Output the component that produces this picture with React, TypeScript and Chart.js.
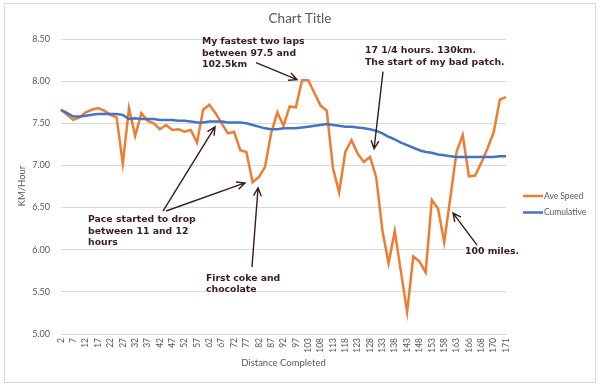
import { useEffect, useRef } from "react";
import { Chart, registerables } from "chart.js";

Chart.register(...registerables);

const distanceLabels = [
  "2", "4.5", "7", "9.5", "12", "14.5", "17", "19.5", "22", "24.5",
  "27", "29.5", "32", "34.5", "37", "39.5", "42", "44.5", "47", "49.5",
  "52", "54.5", "57", "59.5", "62", "64.5", "67", "69.5", "72", "74.5",
  "77", "79.5", "82", "84.5", "87", "89.5", "92", "94.5", "97", "100",
  "103", "105.5", "108", "110.5", "113", "115.5", "118", "120.5", "123", "125.5",
  "128", "130.5", "133", "135.5", "138", "140.5", "143", "145.5", "148", "150.5",
  "153", "155.5", "158", "160.5", "163", "164.5", "166", "167", "168", "169",
  "170", "170.5", "171",
];

const aveSpeed = [
  7.66, 7.6, 7.54, 7.57, 7.63, 7.66, 7.68, 7.65, 7.6, 7.57,
  7.02, 7.68, 7.35, 7.62, 7.53, 7.5, 7.43, 7.48, 7.42, 7.43,
  7.4, 7.42, 7.27, 7.66, 7.72, 7.62, 7.5, 7.38, 7.4, 7.18,
  7.16, 6.8, 6.86, 6.98, 7.38, 7.63, 7.47, 7.7, 7.69, 8.01,
  8.01, 7.86, 7.71, 7.65, 6.97, 6.68, 7.16, 7.3, 7.14, 7.04,
  7.1, 6.86, 6.23, 5.84, 6.22, 5.74, 5.26, 5.92, 5.86, 5.73,
  6.59, 6.49, 6.09, 6.62, 7.16, 7.36, 6.87, 6.88, 7.03, 7.2,
  7.39, 7.78, 7.81,
];

const cumulative = [
  7.66, 7.62, 7.58, 7.58, 7.59, 7.6, 7.61, 7.61, 7.61, 7.61,
  7.6, 7.55, 7.56, 7.55, 7.55, 7.55, 7.54, 7.54, 7.54, 7.53,
  7.53, 7.52, 7.51, 7.51, 7.52, 7.52, 7.52, 7.51, 7.51, 7.51,
  7.5, 7.48, 7.46, 7.44, 7.43, 7.43, 7.44, 7.44, 7.44, 7.45,
  7.46, 7.47, 7.48, 7.49, 7.48, 7.47, 7.46, 7.46, 7.45, 7.44,
  7.43, 7.41, 7.38, 7.34, 7.31, 7.27, 7.24, 7.21, 7.18, 7.16,
  7.15, 7.13, 7.12, 7.11, 7.1, 7.1, 7.1, 7.1, 7.1, 7.1,
  7.1, 7.11, 7.11,
];

const seriesNames = ["Ave Speed", "Cumulative"];
const seriesColors = ["#ED7D31", "#4472C4"];

// annotations in data space: [category index, km/h]
const notes = [
  { lines: ["My fastest two laps", "between 97.5 and", "102.5km"], at: [22.8, 8.469], arrows: [[31.55, 8.219, 38.19, 8.017]] },
  { lines: ["17 1/4 hours. 130km.", "The start of my bad patch."], at: [49.19, 8.362], arrows: [[52.1, 8.113, 50.65, 7.197]] },
  { lines: ["Pace started to drop", "between 11 and 12", "hours"], at: [4.37, 6.352], arrows: [[16.5, 6.459, 24.92, 7.458], [17.0, 6.459, 29.77, 6.792]] },
  { lines: ["First coke and", "chocolate"], at: [23.46, 5.662], arrows: [[30.9, 5.793, 31.88, 6.733]] },
  { lines: ["100 miles."], at: [65.37, 5.972], arrows: [[67.31, 6.055, 63.43, 6.435]] },
];

const FONT = "Lato, 'Open Sans', sans-serif";
const NOTE_FONT = "bold 9.3px 'DejaVu Sans', Verdana, sans-serif";
const GRAY = "#595959";

const decor = {
  id: "decor",
  beforeDraw(chart: any) {
    const { ctx } = chart;
    ctx.save();
    ctx.fillStyle = "#ffffff";
    ctx.fillRect(0, 0, chart.width, chart.height);
    ctx.strokeStyle = "#d9d9d9";
    ctx.lineWidth = 1;
    ctx.strokeRect(4.5, 3.5, 591, 379);
    ctx.restore();
  },
  afterDraw(chart: any) {
    const { ctx, chartArea } = chart;
    const xs = chart.scales.x;
    const ys = chart.scales.y;
    ctx.save();
    // title
    ctx.fillStyle = GRAY;
    ctx.font = `13.5px ${FONT}`;
    ctx.textAlign = "center";
    ctx.textBaseline = "middle";
    ctx.fillText("Chart Title", 300, 19);
    // axis titles
    ctx.font = `9.5px ${FONT}`;
    ctx.fillText("Distance Completed", (chartArea.left + chartArea.right) / 2, 363);
    ctx.save();
    ctx.translate(22, 186);
    ctx.rotate(-Math.PI / 2);
    ctx.fillText("KM/Hour", 0, 0);
    ctx.restore();
    // legend
    ctx.textAlign = "left";
    ctx.font = `8.5px ${FONT}`;
    seriesNames.forEach((n, i) => {
      const y = 196 + i * 16.5;
      ctx.strokeStyle = seriesColors[i];
      ctx.lineWidth = 2.5;
      ctx.beginPath();
      ctx.moveTo(523, y);
      ctx.lineTo(543, y);
      ctx.stroke();
      ctx.fillStyle = GRAY;
      ctx.fillText(n, 544, y);
    });
    // annotations
    const ink = "#3a1c1c";
    ctx.font = NOTE_FONT;
    ctx.fillStyle = ink;
    ctx.strokeStyle = ink;
    ctx.lineWidth = 1.4;
    notes.forEach((nt) => {
      const tx = xs.getPixelForValue(nt.at[0]);
      const ty = ys.getPixelForValue(nt.at[1]);
      nt.lines.forEach((l, k) => ctx.fillText(l, tx, ty + k * 11.5));
      nt.arrows.forEach((a) => {
        const x1 = xs.getPixelForValue(a[0]);
        const y1 = ys.getPixelForValue(a[1]);
        const x2 = xs.getPixelForValue(a[2]);
        const y2 = ys.getPixelForValue(a[3]);
        const ang = Math.atan2(y2 - y1, x2 - x1);
        ctx.beginPath();
        ctx.moveTo(x1, y1);
        ctx.lineTo(x2, y2);
        const L = 9;
        const w = 0.45;
        ctx.moveTo(x2 - L * Math.cos(ang - w), y2 - L * Math.sin(ang - w));
        ctx.lineTo(x2, y2);
        ctx.lineTo(x2 - L * Math.cos(ang + w), y2 - L * Math.sin(ang + w));
        ctx.stroke();
      });
    });
    ctx.restore();
  },
};

export default function App() {
  const ref = useRef<HTMLCanvasElement>(null);
  useEffect(() => {
    const chart = new Chart(ref.current as HTMLCanvasElement, {
      type: "line",
      data: {
        labels: distanceLabels,
        datasets: [
          { label: seriesNames[0], data: aveSpeed, borderColor: seriesColors[0], backgroundColor: seriesColors[0], borderWidth: 2.5, pointRadius: 0, tension: 0, order: 1 },
          { label: seriesNames[1], data: cumulative, borderColor: seriesColors[1], backgroundColor: seriesColors[1], borderWidth: 2.5, pointRadius: 0, tension: 0, order: 0 },
        ],
      },
      options: {
        responsive: false,
        animation: false,
        events: [],
        layout: { padding: { left: 0, top: 39, right: 93, bottom: 0 } },
        plugins: { legend: { display: false }, title: { display: false }, tooltip: { enabled: false } },
        scales: {
          x: {
            grid: { display: false, drawTicks: false },
            border: { display: true, color: "#d9d9d9" },
            ticks: {
              autoSkip: false,
              minRotation: 90,
              maxRotation: 90,
              padding: 4,
              color: GRAY,
              font: { family: FONT, size: 8.5 },
              callback: (_v: any, i: number) => (i % 2 === 0 ? distanceLabels[i] : ""),
            },
            afterFit: (s: any) => { s.height = 52; },
          },
          y: {
            min: 5,
            max: 8.5,
            grid: { color: "#d9d9d9", drawTicks: false },
            border: { display: false },
            ticks: {
              stepSize: 0.5,
              padding: 11,
              color: GRAY,
              font: { family: FONT, size: 9 },
              callback: (v: any) => Number(v).toFixed(2),
            },
            afterFit: (s: any) => { s.width = 61; },
          },
        },
      } as any,
      plugins: [decor],
    });
    return () => chart.destroy();
  }, []);
  return (
    <div style={{ position: "fixed", left: 0, top: 0, width: 599, height: 386, background: "#fff" }}>
      <canvas ref={ref} width={599} height={386} style={{ display: "block", width: 599, height: 386 }} />
    </div>
  );
}
